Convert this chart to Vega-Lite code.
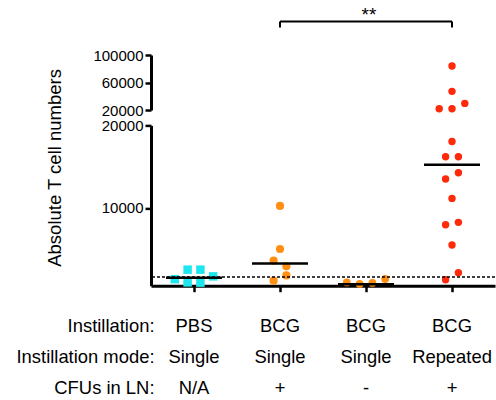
{
  "$schema": "https://vega.github.io/schema/vega-lite/v6.json",
  "padding": {"left": 15, "top": 6, "right": 2, "bottom": 2},
  "bounds": "flush",
  "spacing": 15.4,
  "config": {
    "view": {"stroke": null},
    "font": "Liberation Sans",
    "axis": {"domainColor": "black", "domainWidth": 3, "tickColor": "black", "tickWidth": 2.5, "tickSize": 6, "labelColor": "black", "titleColor": "black", "labelFont": "Liberation Sans", "titleFont": "Liberation Sans", "grid": false}
  },
  "resolve": {"scale": {"y": "independent", "x": "independent", "xOffset": "independent"}},
  "datasets": {
    "cells": [
      {"group": "PBS|Single|N/A", "slot": -1.5, "cells": 1380},
      {"group": "PBS|Single|N/A", "slot": -0.5, "cells": 2530},
      {"group": "PBS|Single|N/A", "slot": -0.5, "cells": 990},
      {"group": "PBS|Single|N/A", "slot": 0.5, "cells": 2530},
      {"group": "PBS|Single|N/A", "slot": 0.5, "cells": 960},
      {"group": "PBS|Single|N/A", "slot": 1.5, "cells": 1720},
      {"group": "BCG|Single|+", "slot": 0, "cells": 10250},
      {"group": "BCG|Single|+", "slot": 0, "cells": 5040},
      {"group": "BCG|Single|+", "slot": -0.5, "cells": 3620},
      {"group": "BCG|Single|+", "slot": 0.5, "cells": 2930},
      {"group": "BCG|Single|+", "slot": 0.5, "cells": 1840},
      {"group": "BCG|Single|+", "slot": -0.5, "cells": 1200},
      {"group": "BCG|Single|-", "slot": -1.5, "cells": 990},
      {"group": "BCG|Single|-", "slot": -0.5, "cells": 800},
      {"group": "BCG|Single|-", "slot": 0.5, "cells": 920},
      {"group": "BCG|Single|-", "slot": 1.5, "cells": 1400},
      {"group": "BCG|Repeated|+", "slot": 0, "cells": 84000},
      {"group": "BCG|Repeated|+", "slot": 0, "cells": 47100},
      {"group": "BCG|Repeated|+", "slot": 1, "cells": 29600},
      {"group": "BCG|Repeated|+", "slot": -1, "cells": 21900},
      {"group": "BCG|Repeated|+", "slot": 0, "cells": 21900},
      {"group": "BCG|Repeated|+", "slot": 0, "cells": 18060},
      {"group": "BCG|Repeated|+", "slot": -0.5, "cells": 16210},
      {"group": "BCG|Repeated|+", "slot": 0.5, "cells": 16210},
      {"group": "BCG|Repeated|+", "slot": 0.5, "cells": 14270},
      {"group": "BCG|Repeated|+", "slot": -0.5, "cells": 13510},
      {"group": "BCG|Repeated|+", "slot": 0, "cells": 11160},
      {"group": "BCG|Repeated|+", "slot": -0.5, "cells": 7980},
      {"group": "BCG|Repeated|+", "slot": 0.5, "cells": 8260},
      {"group": "BCG|Repeated|+", "slot": 0, "cells": 5520},
      {"group": "BCG|Repeated|+", "slot": 0.5, "cells": 2170},
      {"group": "BCG|Repeated|+", "slot": -0.5, "cells": 1320}
    ],
    "medians": [
      {"group": "PBS|Single|N/A", "median": 1550},
      {"group": "BCG|Single|+", "median": 3290},
      {"group": "BCG|Single|-", "median": 760},
      {"group": "BCG|Repeated|+", "median": 15240}
    ],
    "limit": [{"lod": 1650}],
    "sig": [{"from": "BCG|Single|+", "to": "BCG|Repeated|+", "mid": "BCG|Single|-", "top": 148900, "label": "**", "labelY": 162000}],
    "sigEnds": [
      {"g": "BCG|Single|+", "top": 148900, "bottom": 140100},
      {"g": "BCG|Repeated|+", "top": 148900, "bottom": 140100}
    ]
  },
  "vconcat": [
    {
      "width": 344,
      "height": 55,
      "resolve": {"axis": {"x": "independent", "y": "independent"}},
      "layer": [
        {
          "data": {"name": "cells"},
          "transform": [{"filter": "datum.cells > 20000"}],
          "mark": {"type": "point", "filled": true, "opacity": 1, "size": 55},
          "encoding": {
            "x": {"field": "group", "type": "nominal", "scale": {"domain": ["PBS|Single|N/A", "BCG|Single|+", "BCG|Single|-", "BCG|Repeated|+"], "paddingInner": 0, "paddingOuter": 0}, "axis": null},
            "xOffset": {"field": "slot", "type": "quantitative", "scale": {"domain": [-3.36, 3.36]}},
            "y": {"field": "cells", "type": "quantitative", "scale": {"domain": [20000, 100000], "nice": false, "zero": false}, "axis": {"values": [20000, 60000, 100000], "format": "d", "title": null, "labelFontSize": 15, "labelPadding": 2}},
            "color": {"field": "group", "type": "nominal", "scale": {"domain": ["PBS|Single|N/A", "BCG|Single|+", "BCG|Single|-", "BCG|Repeated|+"], "range": ["#1de6ef", "#ff8e12", "#ff8e12", "#ff2a0a"]}, "legend": null},
            "shape": {"field": "group", "type": "nominal", "scale": {"domain": ["PBS|Single|N/A", "BCG|Single|+", "BCG|Single|-", "BCG|Repeated|+"], "range": ["square", "circle", "circle", "circle"]}, "legend": null}
          }
        },
        {
          "data": {"name": "sig"},
          "mark": {"type": "rule", "color": "black", "strokeWidth": 2},
          "encoding": {
            "x": {"field": "from", "type": "nominal", "axis": null},
            "x2": {"field": "to"},
            "y": {"field": "top", "type": "quantitative", "axis": null}
          }
        },
        {
          "data": {"name": "sigEnds"},
          "mark": {"type": "rule", "color": "black", "strokeWidth": 2},
          "encoding": {
            "x": {"field": "g", "type": "nominal", "axis": null},
            "y": {"field": "top", "type": "quantitative", "axis": null},
            "y2": {"field": "bottom"}
          }
        },
        {
          "data": {"name": "sig"},
          "mark": {"type": "text", "fontSize": 19, "color": "black", "baseline": "middle", "align": "center", "dx": 3, "dy": 3},
          "encoding": {
            "x": {"field": "mid", "type": "nominal", "axis": null},
            "y": {"field": "labelY", "type": "quantitative", "axis": null},
            "text": {"field": "label"}
          }
        }
      ]
    },
    {
      "width": 344,
      "height": 160.3,
      "resolve": {"axis": {"x": "independent", "y": "independent"}},
      "layer": [
        {
          "data": {"name": "cells"},
          "transform": [{"filter": "datum.cells <= 20000"}],
          "mark": {"type": "point", "filled": true, "opacity": 1},
          "encoding": {
            "x": {"field": "group", "type": "nominal", "scale": {"domain": ["PBS|Single|N/A", "BCG|Single|+", "BCG|Single|-", "BCG|Repeated|+"], "paddingInner": 0, "paddingOuter": 0},
              "axis": {"labelExpr": "split(datum.value, '|')", "labelFontSize": 18.4, "labelLineHeight": 31, "labelPadding": 24.5, "labelAngle": 0,
                "title": ["Instillation:", "Instillation mode:", "CFUs in LN:"], "titleFontSize": 18.4, "titleFontWeight": "normal", "titleLineHeight": 31, "titleAlign": "right", "titleBaseline": "top", "titleX": 3, "titleY": 30.5}},
            "xOffset": {"field": "slot", "type": "quantitative", "scale": {"domain": [-3.36, 3.36]}},
            "y": {"field": "cells", "type": "quantitative", "scale": {"domain": [590, 20000], "nice": false, "zero": false},
              "axis": {"values": [10000, 20000], "format": "d", "labelFontSize": 15, "labelPadding": 2, "title": "Absolute T cell numbers", "titleFontSize": 18.5, "titleFontWeight": "normal", "titleX": -97, "titleY": 42, "titleAngle": -90, "titleBaseline": "middle", "titleAlign": "center"}},
            "color": {"field": "group", "type": "nominal", "scale": {"domain": ["PBS|Single|N/A", "BCG|Single|+", "BCG|Single|-", "BCG|Repeated|+"], "range": ["#1de6ef", "#ff8e12", "#ff8e12", "#ff2a0a"]}, "legend": null},
            "shape": {"field": "group", "type": "nominal", "scale": {"domain": ["PBS|Single|N/A", "BCG|Single|+", "BCG|Single|-", "BCG|Repeated|+"], "range": ["square", "circle", "circle", "circle"]}, "legend": null},
            "size": {"field": "group", "type": "nominal", "scale": {"domain": ["PBS|Single|N/A", "BCG|Single|+", "BCG|Single|-", "BCG|Repeated|+"], "range": [72, 55, 55, 55]}, "legend": null}
          }
        },
        {
          "data": {"name": "limit"},
          "mark": {"type": "rule", "color": "black", "strokeWidth": 1.5, "strokeDash": [3, 2]},
          "encoding": {"y": {"field": "lod", "type": "quantitative", "axis": null}}
        },
        {
          "data": {"name": "medians"},
          "mark": {"type": "tick", "color": "black", "opacity": 1, "size": 56, "thickness": 2.5, "orient": "horizontal"},
          "encoding": {
            "x": {"field": "group", "type": "nominal", "axis": null},
            "y": {"field": "median", "type": "quantitative", "axis": null}
          }
        }
      ]
    }
  ]
}
